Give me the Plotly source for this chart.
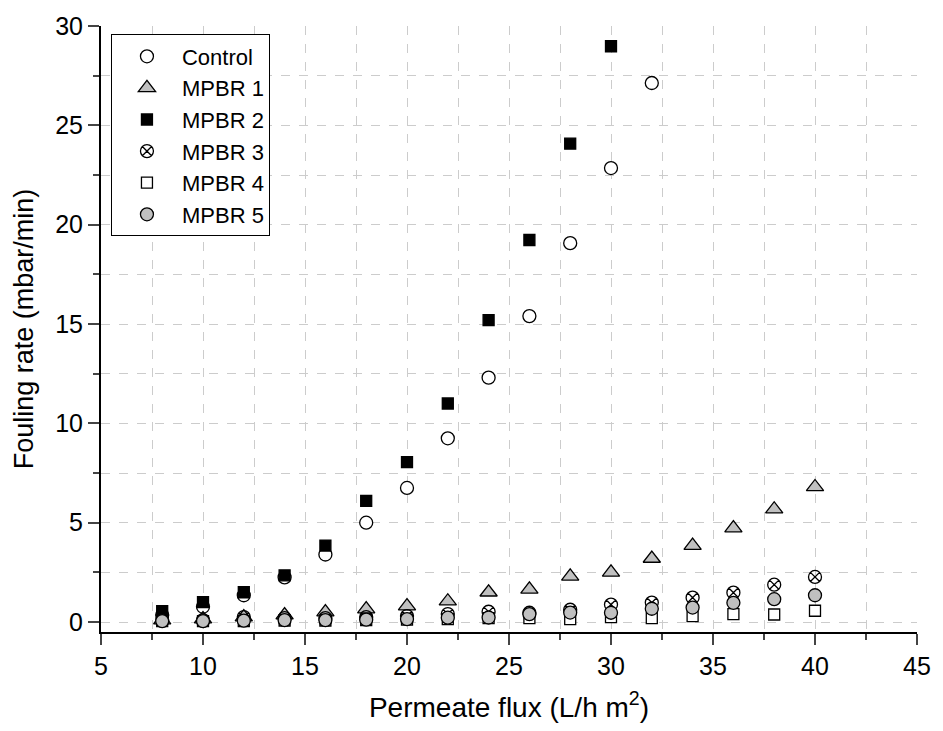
import plotly.graph_objects as go

flux = [8, 10, 12, 14, 16, 18, 20, 22, 24, 26, 28, 30, 32, 34, 36, 38, 40]

control_x = [8, 10, 12, 14, 16, 18, 20, 22, 24, 26, 28, 30, 32]
control_y = [0.35, 0.77, 1.35, 2.25, 3.4, 5.0, 6.75, 9.25, 12.3, 15.4, 19.07, 22.85, 27.13]

mpbr2_x = [8, 10, 12, 14, 16, 18, 20, 22, 24, 26, 28, 30]
mpbr2_y = [0.55, 1.0, 1.5, 2.35, 3.85, 6.1, 8.05, 11.0, 15.2, 19.23, 24.08, 28.98]

mpbr1_y = [0.1, 0.15, 0.25, 0.35, 0.5, 0.65, 0.8, 1.05, 1.5, 1.65, 2.3, 2.5, 3.2, 3.85, 4.73, 5.68, 6.8]
mpbr3_y = [0.1, 0.1, 0.25, 0.2, 0.2, 0.25, 0.3, 0.4, 0.52, 0.47, 0.62, 0.88, 0.98, 1.23, 1.48, 1.88, 2.27]
mpbr4_y = [0.05, 0.05, 0.05, 0.08, 0.08, 0.1, 0.12, 0.15, 0.2, 0.2, 0.15, 0.25, 0.2, 0.3, 0.4, 0.38, 0.57]
mpbr5_y = [0.05, 0.05, 0.07, 0.1, 0.1, 0.12, 0.15, 0.22, 0.23, 0.4, 0.48, 0.47, 0.67, 0.73, 0.97, 1.15, 1.35]

x_range = [5, 45]
y_range = [-0.5, 30]
x_ticks = [5, 10, 15, 20, 25, 30, 35, 40, 45]
y_ticks = [0, 5, 10, 15, 20, 25, 30]

FONT = "Liberation Sans, Arial, sans-serif"
GRAY = "#c0c0c0"
line = dict(color="black", width=1.3)

fig = go.Figure()
fig.add_trace(go.Scatter(x=control_x, y=control_y, mode="markers", name="Control",
                         marker=dict(symbol="circle", size=13, color="white", line=line)))
fig.add_trace(go.Scatter(x=flux, y=mpbr1_y, mode="markers", name="MPBR 1",
                         marker=dict(symbol="triangle-up", size=15, color=GRAY, line=line)))
fig.add_trace(go.Scatter(x=mpbr2_x, y=mpbr2_y, mode="markers", name="MPBR 2",
                         marker=dict(symbol="square", size=11, color="black", line=line)))
fig.add_trace(go.Scatter(x=flux, y=mpbr3_y, mode="markers", name="MPBR 3",
                         marker=dict(symbol="circle-x-open", size=13, color="black",
                                     line=dict(color="black", width=1.3))))
fig.add_trace(go.Scatter(x=flux, y=mpbr4_y, mode="markers", name="MPBR 4",
                         marker=dict(symbol="square", size=11, color="white", line=line)))
fig.add_trace(go.Scatter(x=flux, y=mpbr5_y, mode="markers", name="MPBR 5",
                         marker=dict(symbol="circle", size=13, color=GRAY, line=line)))

grid = dict(showgrid=True, gridcolor="#cccccc", griddash="dash", gridwidth=1)

fig.update_layout(
    width=943, height=731,
    margin=dict(l=101, r=23, t=22, b=99),
    paper_bgcolor="white", plot_bgcolor="white",
    font=dict(family=FONT, color="black", size=25),
    showlegend=True,
    legend=dict(x=0.0122, y=0.986, xanchor="left", yanchor="top",
                bgcolor="white", bordercolor="black", borderwidth=1,
                font=dict(size=22, family=FONT), itemwidth=60,
                tracegroupgap=0),
    xaxis=dict(range=x_range, tickvals=x_ticks, ticks="outside", ticklen=11, tickwidth=2,
               showline=True, linecolor="black", linewidth=2, zeroline=False,
               tickfont=dict(size=25), **grid,
               minor=dict(dtick=2.5, tick0=5, ticks="outside", ticklen=6, tickwidth=2,
                          showgrid=True, gridcolor="#cccccc", griddash="dash", gridwidth=1),
               title=dict(text="Permeate flux (L/h m<sup>2</sup>)", font=dict(size=28), standoff=18)),
    yaxis=dict(range=y_range, tickvals=y_ticks, ticks="outside", ticklen=11, tickwidth=2,
               showline=True, linecolor="black", linewidth=2, zeroline=False,
               tickfont=dict(size=25), **grid,
               minor=dict(dtick=2.5, tick0=0, ticks="outside", ticklen=6, tickwidth=2,
                          showgrid=True, gridcolor="#cccccc", griddash="dash", gridwidth=1),
               title=dict(text="Fouling rate (mbar/min)", font=dict(size=27), standoff=14)),
    xaxis2=dict(overlaying="x", side="top", range=x_range, tickvals=x_ticks, ticks="inside",
                ticklen=10, tickwidth=2, showticklabels=False, showline=True, linecolor="black",
                linewidth=2, showgrid=False, zeroline=False,
                minor=dict(dtick=2.5, tick0=5, ticks="inside", ticklen=6, tickwidth=2, showgrid=False)),
    yaxis2=dict(overlaying="y", side="right", range=y_range, tickvals=y_ticks, ticks="inside",
                ticklen=10, tickwidth=2, showticklabels=False, showline=True, linecolor="black",
                linewidth=2, showgrid=False, zeroline=False,
                minor=dict(dtick=2.5, tick0=0, ticks="inside", ticklen=6, tickwidth=2, showgrid=False)),
)

fig.write_html("out.html")
